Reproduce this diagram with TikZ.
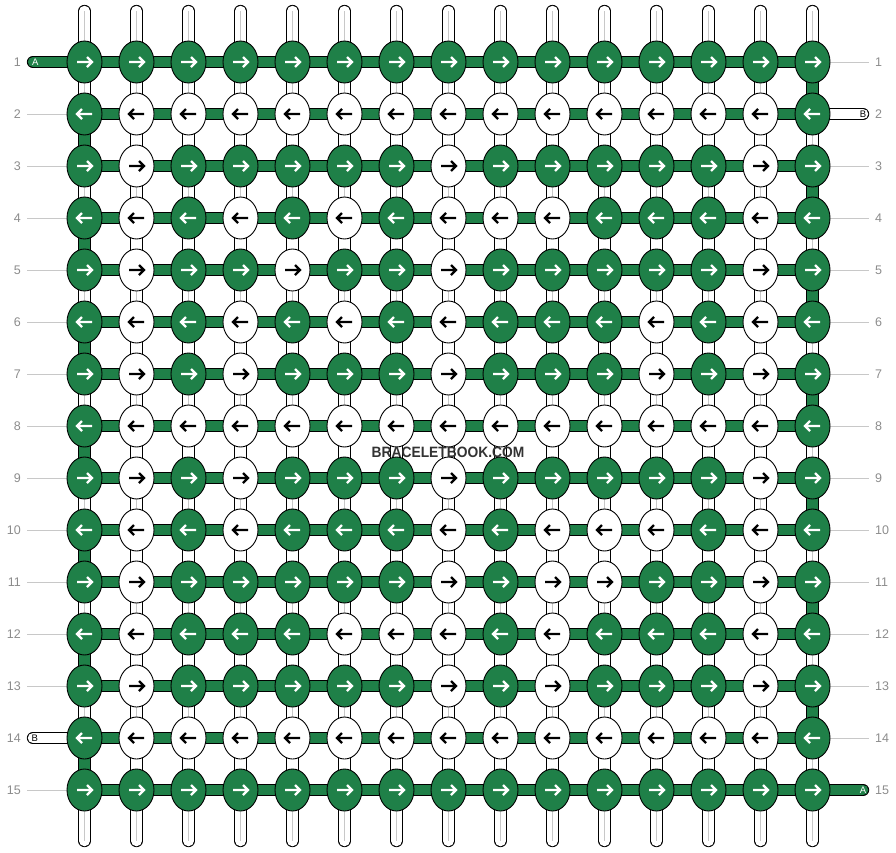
\documentclass[tikz,border=0pt]{standalone}
\usepackage{fontspec}
\setmainfont{Liberation Sans}
\usetikzlibrary{shapes.geometric}
\definecolor{threadgreen}{RGB}{31,128,72}
\definecolor{numgray}{RGB}{140,140,140}
\definecolor{linegray}{RGB}{200,200,200}
\definecolor{markgray}{RGB}{51,51,51}
\pgfdeclarelayer{threads}
\pgfsetlayers{threads,main}
\tikzstyle{knotg}=[ellipse,draw=black,line width=0.9pt,fill=threadgreen,minimum width=35pt,minimum height=42pt,inner sep=0pt]
\tikzstyle{knotw}=[knotg,fill=white]
\tikzstyle{arrowg}=[draw=white,line width=2.2pt]
\tikzstyle{arroww}=[draw=black,line width=2.2pt]
\tikzstyle{hthread}=[draw=black,line width=0.9pt,double=threadgreen,double distance=10.5pt]
\tikzstyle{hwhite}=[hthread,double=white]
\tikzstyle{vthread}=[hthread,double=white]
\tikzstyle{vcore}=[draw=linegray,line width=1pt]
\tikzstyle{guide}=[draw=linegray,line width=1pt]
\tikzstyle{rownum}=[font=\fontsize{12.5}{13}\selectfont,text=numgray,inner sep=0pt]
\tikzstyle{stubtag}=[font=\fontsize{9.5}{10}\selectfont,inner sep=0pt]

\begin{document}
\begin{tikzpicture}[x=1pt,y=-1pt]
\useasboundingbox (0,0) rectangle (896,852);

% Knots (g = green, w = white), odd rows forward, even rows backward
\foreach \r/\row in {
    1/{g,g,g,g,g,g,g,g,g,g,g,g,g,g,g},
    2/{g,w,w,w,w,w,w,w,w,w,w,w,w,w,g},
    3/{g,w,g,g,g,g,g,w,g,g,g,g,g,w,g},
    4/{g,w,g,w,g,w,g,w,w,w,g,g,g,w,g},
    5/{g,w,g,g,w,g,g,w,g,g,g,g,g,w,g},
    6/{g,w,g,w,g,w,g,w,g,g,g,w,g,w,g},
    7/{g,w,g,w,g,g,g,w,g,g,g,w,g,w,g},
    8/{g,w,w,w,w,w,w,w,w,w,w,w,w,w,g},
    9/{g,w,g,w,g,g,g,w,g,g,g,g,g,w,g},
    10/{g,w,g,w,g,g,g,w,g,w,w,w,g,w,g},
    11/{g,w,g,g,g,g,g,w,g,w,w,g,g,w,g},
    12/{g,w,g,g,g,w,w,w,g,w,g,g,g,w,g},
    13/{g,w,g,g,g,g,g,w,g,w,g,g,g,w,g},
    14/{g,w,w,w,w,w,w,w,w,w,w,w,w,w,g},
    15/{g,g,g,g,g,g,g,g,g,g,g,g,g,g,g}} {
  \ifodd\r \def\dir{1}\else \def\dir{-1}\fi
  \foreach \c [count=\col] in \row {
    \node[knot\c] (k-\r-\col) at ({84.5+52*(\col-1)},{62+52*(\r-1)}) {};
    \draw[arrow\c,shift={(k-\r-\col)},xscale=\dir] (-7.5,0) -- (7,0) (2.5,-5) -- (7.5,0) -- (2.5,5);
  }
}

% Row numbers
\foreach \r in {1,...,15} {
  \node[rownum,anchor=east,inner xsep=6pt] (nl-\r) at (27,{62+52*(\r-1)}) {\r};
  \node[rownum,anchor=west,inner xsep=6pt] (nr-\r) at (869,{62+52*(\r-1)}) {\r};
}

\begin{pgfonlayer}{threads}
% horizontal threads
\foreach \r in {1,...,15} {
  \foreach \col [count=\nxt from 2] in {1,...,14} {
    \draw[hthread] (k-\r-\col.center) -- (k-\r-\nxt.center);
  }
}

% vertical threads
\foreach \r [count=\nxt from 2] in {1,...,14} {
  \foreach \col in {2,...,14} {
    \draw[vthread] (k-\r-\col.center) -- (k-\nxt-\col.center);
    \ifodd\r \draw[vcore] (k-\r-\col.center) -- (k-\nxt-\col.center); \fi
  }
  \ifodd\r
    \draw[vthread] (k-\r-1.center) -- (k-\nxt-1.center);
    \draw[vcore] (k-\r-1.center) -- (k-\nxt-1.center);
    \draw[hthread] (k-\r-15.center) -- (k-\nxt-15.center);
  \else
    \draw[hthread] (k-\r-1.center) -- (k-\nxt-1.center);
    \draw[vthread] (k-\r-15.center) -- (k-\nxt-15.center);
    \draw[vcore] (k-\r-15.center) -- (k-\nxt-15.center);
  \fi
}

% loose ends at top and bottom
\foreach \col in {1,...,15} {
  \coordinate (top-\col) at ({84.5+52*(\col-1)},11);
  \coordinate (bot-\col) at ({84.5+52*(\col-1)},841);
  \draw[vthread,line cap=round] (top-\col) -- (k-1-\col.center);
  \draw[vcore] (top-\col) -- (k-1-\col.center);
  \draw[vthread,line cap=round] (k-15-\col.center) -- (bot-\col);
  \draw[vcore] (k-15-\col.center) -- (bot-\col);
}

% side threads A and B
\coordinate (a-in) at (33,62);
\coordinate (b-in) at (863,114);
\coordinate (b-out) at (33,738);
\coordinate (a-out) at (863,790);
\draw[hthread,line cap=round] (a-in) -- (k-1-1.center);
\draw[hwhite,line cap=round] (b-in) -- (k-2-15.center);
\draw[hwhite,line cap=round] (b-out) -- (k-14-1.center);
\draw[hthread,line cap=round] (k-15-15.center) -- (a-out);

% guide lines to the row numbers
\foreach \r in {2,...,13,15}
  \draw[guide] (nl-\r) -- (k-\r-1.center);
\foreach \r in {1,3,4,...,14}
  \draw[guide] (k-\r-15.center) -- (nr-\r);
\end{pgfonlayer}

% Labels
\node[stubtag,text=white] (tag-a-in) at (35.2,62) {A};
\node[stubtag,text=black] (tag-b-in) at (863,114) {B};
\node[stubtag,text=black] (tag-b-out) at (34.7,738) {B};
\node[stubtag,text=white] (tag-a-out) at (863,790) {A};
\node[font=\fontsize{15}{16}\selectfont\bfseries,text=markgray,xscale=0.92,transform shape] (mark) at (448,452) {BRACELETBOOK.COM};

\end{tikzpicture}
\end{document}
